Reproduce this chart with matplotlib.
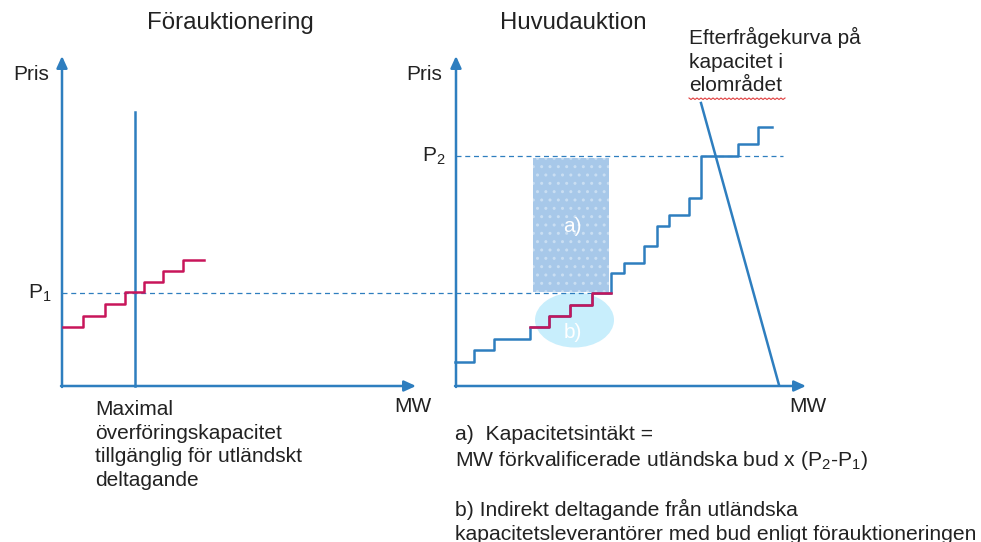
import numpy as np
import matplotlib
matplotlib.use("Agg")
from matplotlib import pyplot as plt
from matplotlib.patches import Rectangle, Ellipse

plt.rcParams['font.family'] = ['Liberation Sans', 'DejaVu Sans']
plt.rcParams['mathtext.default'] = 'regular'

# stegkurvor (pixelkoordinater i schemat)
pre_x = [63, 83, 105, 125, 144, 163, 183, 204]
pre_y = [327, 316, 304, 292, 282, 271, 260]

main_x = [455, 474, 494, 530, 549, 570, 592, 611, 624, 644, 657, 669, 689, 701, 738, 758, 772]
main_y = [362, 350, 339, 327, 316, 305, 293, 273, 263, 246, 226, 215, 198, 156, 144, 127]
foreign = (3, 7)  # steg i huvudauktionen som kommer fran forauktioneringen

p1, p2 = 293, 156
cap_x = 135
demand = [(701, 103), (779, 385)]

blue = '#2e7ebf'
red = '#c8155a'
txt = '#222222'

fig = plt.figure(figsize=(9.81, 5.42), dpi=100)
ax = fig.add_axes([0, 0, 1, 1])
ax.set_xlim(0, 981)
ax.set_ylim(542, 0)
ax.axis('off')


def arrow(x0, y0, x1, y1):
    ax.annotate('', xy=(x1, y1), xytext=(x0, y0),
                arrowprops=dict(arrowstyle='-|>,head_length=0.7,head_width=0.32',
                                color=blue, lw=1.8, shrinkA=0, shrinkB=0))


# axlar
arrow(62, 387, 62, 56)
arrow(61, 386, 416, 386)
arrow(456, 387, 456, 56)
arrow(455, 386, 806, 386)

# streckade prisnivaer
ax.plot([62, 611], [p1, p1], color=blue, lw=0.9, dashes=(4, 3))
ax.plot([456, 783], [p2, p2], color=blue, lw=0.9, dashes=(4, 3))

# kapacitetsintakt a) och indirekt deltagande b)
ax.add_patch(Rectangle((533, p2 + 2), 609 - 533, p1 - 1 - (p2 + 2),
                       facecolor='#a7c8e9', edgecolor='none', zorder=1))
ax.add_patch(Rectangle((533, p2 + 2), 609 - 533, p1 - 1 - (p2 + 2),
                       facecolor='none', edgecolor='#c9def2', hatch='..', lw=0, zorder=1))
ax.add_patch(Ellipse((574.5, 320), 79, 55, facecolor='#c8eefc', edgecolor='none', zorder=1))
ax.text(572, 226, 'a)', color='white', fontsize=15, ha='center', va='center', zorder=2)
ax.text(573, 332, 'b)', color='white', fontsize=15, ha='center', va='center', zorder=2)

# forauktionering
ax.plot([cap_x, cap_x], [112, 386], color=blue, lw=1.8)
ax.plot(pre_x, pre_y + pre_y[-1:], drawstyle='steps-post', color=red, lw=1.8, zorder=3)

# huvudauktion
ax.plot(main_x, main_y + main_y[-1:], drawstyle='steps-post', color=blue, lw=1.8, zorder=3)
a, b = foreign
ax.plot(main_x[a:b + 1], main_y[a:b] + main_y[b - 1:b], drawstyle='steps-post',
        color=red, lw=1.8, zorder=4)
ax.plot([demand[0][0], demand[1][0]], [demand[0][1], demand[1][1]], color=blue, lw=1.8, zorder=3)

# texter
ax.text(230, 23, 'Förauktionering', fontsize=17.3, color=txt, ha='center', va='center')
ax.text(573, 23, 'Huvudauktion', fontsize=17.3, color=txt, ha='center', va='center')
ax.text(31, 75, 'Pris', fontsize=15, color=txt, ha='center', va='center')
ax.text(424, 75, 'Pris', fontsize=15, color=txt, ha='center', va='center')
ax.text(51, p1, 'P$_1$', fontsize=15, color=txt, ha='right', va='center')
ax.text(445, p2, 'P$_2$', fontsize=15, color=txt, ha='right', va='center')
ax.text(413, 407, 'MW', fontsize=15, color=txt, ha='center', va='center')
ax.text(808, 407, 'MW', fontsize=15, color=txt, ha='center', va='center')

ax.text(95, 400, 'Maximal\növerföringskapacitet\ntillgänglig för utländskt\ndeltagande',
        fontsize=15, color=txt, ha='left', va='top', linespacing=1.31)
ax.text(689, 27, 'Efterfrågekurva på\nkapacitet i\nelområdet',
        fontsize=15, color=txt, ha='left', va='top', linespacing=1.31)
sx = np.arange(689, 787, 2)
ax.plot(sx, 98 + (np.arange(len(sx)) % 2) * 1.5, color='#e04040', lw=0.8)

ax.text(455, 425, 'a)  Kapacitetsintäkt =\nMW förkvalificerade utländska bud x (P$_2$-P$_1$)',
        fontsize=15.2, color=txt, ha='left', va='top', linespacing=1.31)
ax.text(455, 499, 'b) Indirekt deltagande från utländska\nkapacitetsleverantörer med bud enligt förauktioneringen',
        fontsize=15.2, color=txt, ha='left', va='top', linespacing=1.31)

fig.savefig('out.png', dpi=100)
